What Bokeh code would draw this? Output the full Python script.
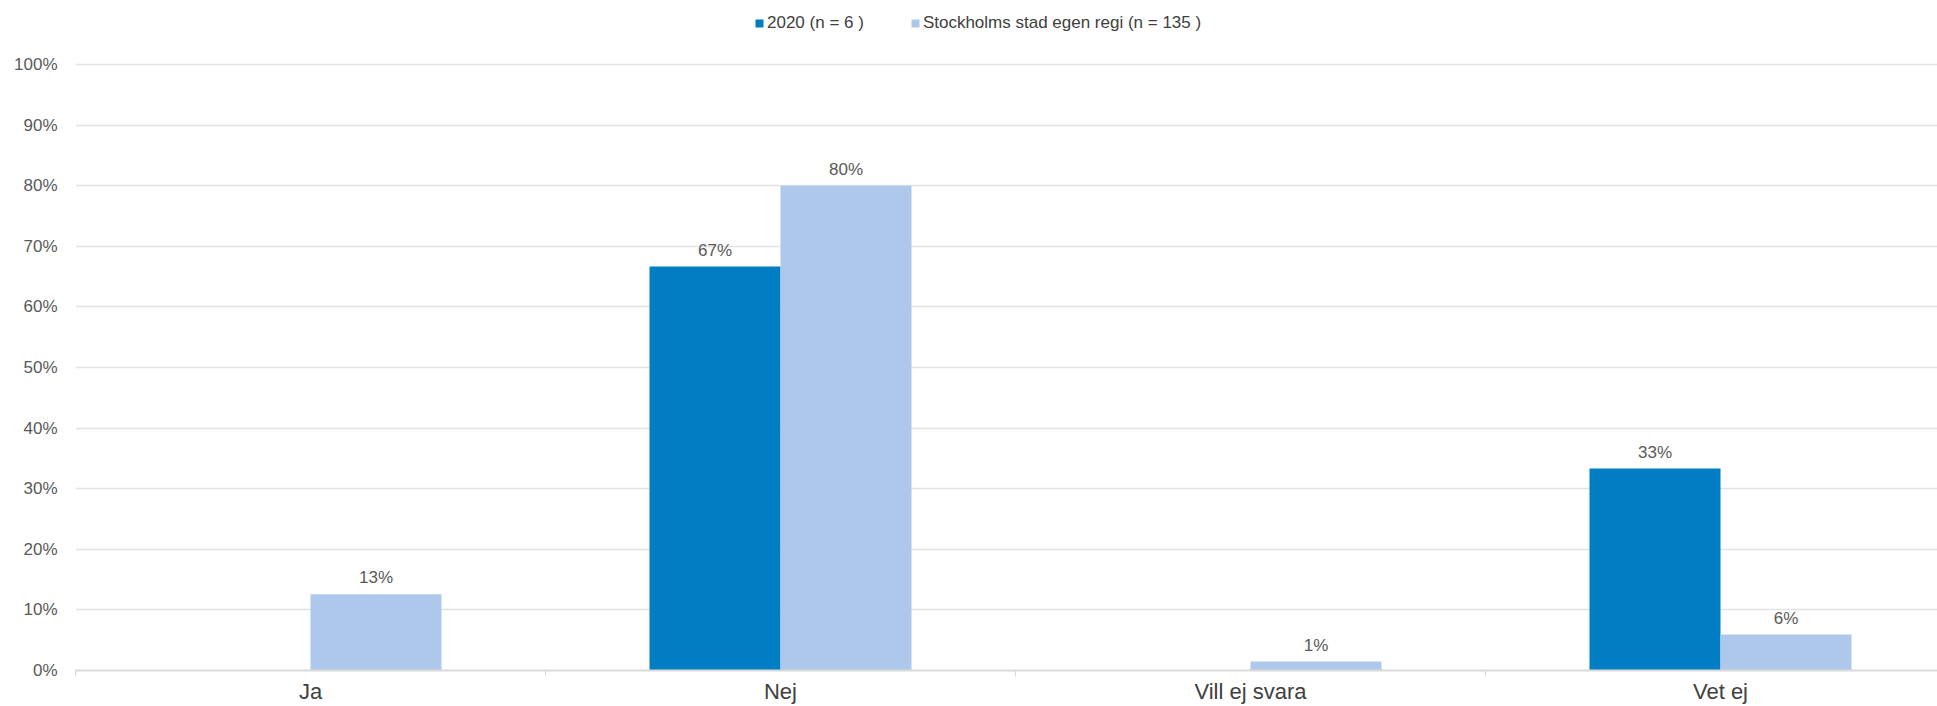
from bokeh.plotting import figure
from bokeh.models import (ColumnDataSource, FixedTicker, PrintfTickFormatter, Legend,
                          LegendItem, Range1d, LabelSet)
from bokeh.core.properties import value
from bokeh.embed import file_html
from bokeh.resources import INLINE

categories = ["Ja", "Nej", "Vill ej svara", "Vet ej"]
series_names = ["2020 (n = 6 )", "Stockholms stad egen regi (n = 135 )"]
values_2020 = [0.0, 66.67, 0.0, 33.33]
values_sthlm = [12.59, 80.0, 1.48, 5.93]
y_ticks = [0, 10, 20, 30, 40, 50, 60, 70, 80, 90, 100]

colors = ["#007DC3", "#AEC8EB"]
FONT = "Liberation Sans"

W, H = 1937, 706
FRAME_L = 75
frame_w = W - FRAME_L
cat_px = 470.0
bar_w = 131.0 / cat_px
# frame reaches the top edge so the legend can sit inside it; 100% lies 64px below the top
y_top = 100 * 669.0 / (669.0 - 64.0)

p = figure(width=W, height=H, output_backend="svg", toolbar_location=None,
           x_range=Range1d(0, frame_w / cat_px), y_range=Range1d(0, y_top),
           min_border_left=FRAME_L, min_border_right=0, min_border_top=0,
           min_border_bottom=0)
p.outline_line_color = None
p.background_fill_color = "white"
p.border_fill_color = "white"

centers = [i + 0.5 for i in range(len(categories))]
renderers = []
for k, (vals, col) in enumerate(zip([values_2020, values_sthlm], colors)):
    off = (k - 0.5) * bar_w
    xs = [c + off for c in centers]
    src = ColumnDataSource(dict(x=xs, top=vals))
    r = p.vbar(x="x", top="top", bottom=0, width=bar_w, source=src,
               fill_color=col, line_color=None)
    renderers.append(r)
    lx = [x for x, v in zip(xs, vals) if v > 0]
    ly = [v for v in vals if v > 0]
    lt = [f"{round(v)}%" for v in vals if v > 0]
    lsrc = ColumnDataSource(dict(x=lx, y=ly, t=lt))
    p.add_layout(LabelSet(x="x", y="y", text="t", source=lsrc,
                          text_align="center", text_baseline="bottom", y_offset=7,
                          text_font=value(FONT), text_font_size=value("17px"),
                          text_color="#595959"))

# axes
xa = p.xaxis[0]
xa.ticker = FixedTicker(ticks=centers, minor_ticks=[0, 1, 2, 3])
xa.major_label_overrides = {c: n for c, n in zip(centers, categories)}
xa.major_tick_out = 0
xa.major_tick_in = 0
xa.minor_tick_out = 6
xa.minor_tick_in = 0
xa.minor_tick_line_color = "#D9D9D9"
xa.minor_tick_line_width = 1
xa.axis_line_color = "#D9D9D9"
xa.axis_line_width = 2
xa.major_label_text_font = FONT
xa.major_label_text_font_size = "22px"
xa.major_label_text_color = "#404040"
xa.major_label_standoff = 2

ya = p.yaxis[0]
ya.ticker = FixedTicker(ticks=y_ticks)
ya.formatter = PrintfTickFormatter(format="%d%%")
ya.axis_line_color = None
ya.major_tick_line_color = None
ya.minor_tick_line_color = None
ya.major_tick_out = 0
ya.major_tick_in = 0
ya.major_label_standoff = 18
ya.major_label_text_font = FONT
ya.major_label_text_font_size = "17px"
ya.major_label_text_color = "#595959"

p.xgrid.grid_line_color = None
p.ygrid.grid_line_color = "#E3E3E3"
p.ygrid.grid_line_width = 1.5
p.ygrid.ticker = FixedTicker(ticks=y_ticks)

legend = Legend(items=[LegendItem(label=n, renderers=[r]) for n, r in zip(series_names, renderers)],
                orientation="horizontal", location=(679, 637),
                glyph_width=10, glyph_height=10, label_standoff=3, spacing=46,
                padding=2, margin=0, label_height=17,
                label_text_font=FONT, label_text_font_size="17px",
                label_text_color="#404040",
                border_line_color=None, background_fill_alpha=0)
p.add_layout(legend, "center")

open("out.html", "w").write(file_html(p, INLINE))
